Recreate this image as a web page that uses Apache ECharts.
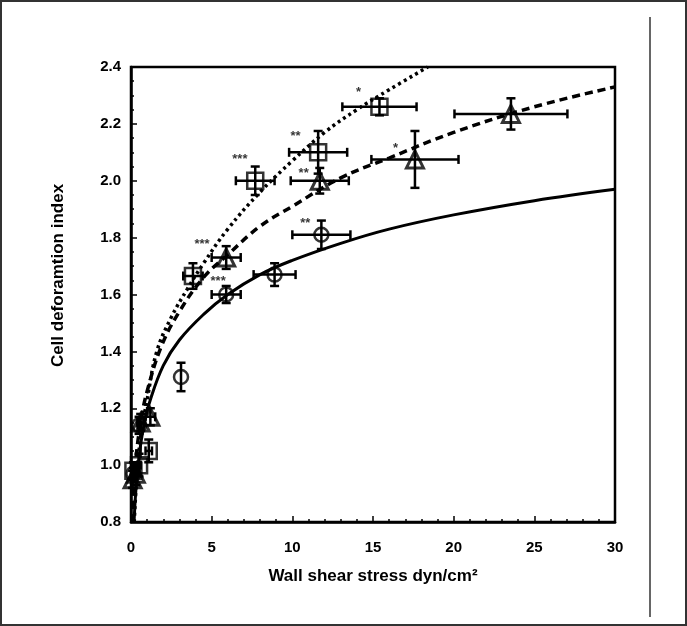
<!DOCTYPE html>
<html>
<head>
<meta charset="utf-8">
<script src="https://cdn.jsdelivr.net/npm/echarts@6/dist/echarts.min.js"></script>
<style>
  html, body { margin: 0; padding: 0; background: #fff; }
  #chart { width: 687px; height: 626px; }
</style>
</head>
<body>
<div id="chart"></div>
<script>
// circles (solid fit)
const circleX = [0.15, 0.5, 3.1, 5.9, 8.9, 11.8]
const circleY = [0.97, 1.14, 1.31, 1.60, 1.67, 1.81]
const circleXErr = [0.05, 0.1, 0, 0.9, 1.3, 1.8]
const circleYErr = [0.02, 0.03, 0.05, 0.03, 0.04, 0.05]

// squares (dotted fit)
const squareX = [0.15, 0.5, 1.1, 3.84, 7.7, 11.6, 15.4]
const squareY = [0.98, 1.0, 1.05, 1.665, 2.0, 2.1, 2.26]
const squareXErr = [0.05, 0.1, 0.2, 0.6, 1.2, 1.8, 2.3]
const squareYErr = [0.03, 0.04, 0.04, 0.045, 0.05, 0.075, 0.03]

// triangles (dashed fit)
const triX = [0.1, 0.3, 0.6, 1.2, 5.9, 11.7, 17.6, 23.55]
const triY = [0.95, 0.97, 1.15, 1.17, 1.73, 2.0, 2.075, 2.235]
const triXErr = [0.05, 0.1, 0.2, 0.3, 0.9, 1.8, 2.7, 3.5]
const triYErr = [0.03, 0.04, 0.03, 0.03, 0.04, 0.045, 0.1, 0.055]

// fitted curves
const solidX = [0.19, 0.3, 0.5, 0.8, 1.2, 2, 3, 4.5, 6, 8, 10, 13, 16, 20, 25, 30]
const solidY = [0.8, 0.91, 1.03, 1.14, 1.23, 1.35, 1.44, 1.53, 1.6, 1.67, 1.72, 1.78, 1.83, 1.88, 1.93, 1.97]
const dottedX = [0.2, 0.35, 0.6, 1.0, 1.6, 2.5, 3.5, 4.5, 6, 8, 10, 12, 14, 16, 18.4]
const dottedY = [0.8, 0.95, 1.1, 1.23, 1.4, 1.52, 1.62, 1.71, 1.83, 1.96, 2.07, 2.17, 2.25, 2.32, 2.4]
const dashedX = [0.08, 0.15, 0.3, 0.6, 1.0, 1.9, 3, 4.5, 6, 8, 10, 13, 16, 20, 25, 30]
const dashedY = [0.8, 0.9, 1.02, 1.15, 1.26, 1.42, 1.54, 1.66, 1.74, 1.84, 1.91, 2.01, 2.08, 2.17, 2.26, 2.33]

// significance marks
const annX = [14.1, 10.2, 6.75, 10.7, 10.8, 4.4, 5.4, 16.4]
const annY = [2.31, 2.155, 2.075, 2.025, 1.85, 1.775, 1.645, 2.115]
const annText = ['*', '**', '***', '**', '**', '***', '***', '*']

const xTicks = { min: 0, max: 30, step: 5 }
const yTicks = { min: 0.8, max: 2.4, step: 0.2 }

const zip = (xs, ys) => xs.map((x, i) => [x, ys[i]])
const errData = (xs, ys, xe, ye) => xs.map((x, i) => [x, ys[i], xe[i], ye[i]])

// 误差棒：横竖两条线，各带端帽
function renderErr(params, api) {
  const x = api.value(0), y = api.value(1), xe = api.value(2), ye = api.value(3)
  const c = api.coord([x, y])
  const l = api.coord([x - xe, y]), r = api.coord([x + xe, y])
  const t = api.coord([x, y + ye]), b = api.coord([x, y - ye])
  const cap = 4.5
  const style = { stroke: '#000', lineWidth: 2.5 }
  const kids = []
  if (xe > 0) {
    kids.push({ type: 'line', shape: { x1: l[0], y1: c[1], x2: r[0], y2: c[1] }, style })
    kids.push({ type: 'line', shape: { x1: l[0], y1: c[1] - cap, x2: l[0], y2: c[1] + cap }, style })
    kids.push({ type: 'line', shape: { x1: r[0], y1: c[1] - cap, x2: r[0], y2: c[1] + cap }, style })
  }
  if (ye > 0) {
    kids.push({ type: 'line', shape: { x1: c[0], y1: t[1], x2: c[0], y2: b[1] }, style })
    kids.push({ type: 'line', shape: { x1: c[0] - cap, y1: t[1], x2: c[0] + cap, y2: t[1] }, style })
    kids.push({ type: 'line', shape: { x1: c[0] - cap, y1: b[1], x2: c[0] + cap, y2: b[1] }, style })
  }
  return { type: 'group', children: kids }
}

const font = 'Liberation Sans, Arial, Helvetica, sans-serif'
const markerStyle = { color: 'rgba(255,255,255,0)', borderColor: '#000', borderWidth: 2.5 }

const chart = echarts.init(document.getElementById('chart'), null, { renderer: 'canvas' })
chart.setOption({
  backgroundColor: '#fff',
  animation: false,
  grid: {
    left: 131, right: 72, top: 67, bottom: 104,
    show: true, borderColor: '#000', borderWidth: 2.5, backgroundColor: 'transparent'
  },
  xAxis: {
    type: 'value', min: xTicks.min, max: xTicks.max, interval: xTicks.step,
    name: 'Wall shear stress dyn/cm²', nameLocation: 'middle', nameGap: 46,
    nameTextStyle: { fontFamily: font, fontWeight: 'bold', fontSize: 17, color: '#000' },
    axisLine: { show: true, onZero: false, lineStyle: { color: '#000', width: 2.5 } },
    axisTick: { show: true, inside: true, length: 6, lineStyle: { color: '#000', width: 1.5 } },
    minorTick: { show: true, splitNumber: 5, length: 3, lineStyle: { color: '#000', width: 1.5 } },
    splitLine: { show: false },
    axisLabel: { fontFamily: font, fontWeight: 'bold', fontSize: 15, color: '#000', margin: 18 }
  },
  yAxis: {
    type: 'value', min: yTicks.min, max: yTicks.max, interval: yTicks.step,
    name: 'Cell deforamtion index', nameLocation: 'middle', nameGap: 64,
    nameTextStyle: { fontFamily: font, fontWeight: 'bold', fontSize: 17, color: '#000', padding: [0, 0, 0, 38] },
    axisLine: { show: true, onZero: false, lineStyle: { color: '#000', width: 2.5 } },
    axisTick: { show: true, inside: true, length: 6, lineStyle: { color: '#000', width: 1.5 } },
    minorTick: { show: true, splitNumber: 4, length: 3, lineStyle: { color: '#000', width: 1.5 } },
    splitLine: { show: false },
    axisLabel: {
      fontFamily: font, fontWeight: 'bold', fontSize: 15, color: '#000', margin: 10,
      formatter: v => v.toFixed(1)
    }
  },
  graphic: [
    { type: 'rect', shape: { x: 1, y: 1, width: 685, height: 624 }, style: { fill: 'none', stroke: '#333', lineWidth: 2 }, silent: true },
    { type: 'line', shape: { x1: 650, y1: 17, x2: 650, y2: 617 }, style: { stroke: '#666', lineWidth: 2 }, silent: true }
  ],
  series: [
    { type: 'line', data: zip(solidX, solidY), smooth: 0.4, showSymbol: false, clip: true,
      lineStyle: { color: '#000', width: 3, type: 'solid' } },
    { type: 'line', data: zip(dashedX, dashedY), smooth: 0.4, showSymbol: false, clip: true,
      lineStyle: { color: '#000', width: 3.5, type: [8, 5] } },
    { type: 'line', data: zip(dottedX, dottedY), smooth: 0.4, showSymbol: false, clip: true,
      lineStyle: { color: '#000', width: 3.5, type: [3, 3.5] } },
    { type: 'custom', renderItem: renderErr, data: errData(circleX, circleY, circleXErr, circleYErr), z: 3 },
    { type: 'custom', renderItem: renderErr, data: errData(squareX, squareY, squareXErr, squareYErr), z: 3 },
    { type: 'custom', renderItem: renderErr, data: errData(triX, triY, triXErr, triYErr), z: 3 },
    { type: 'scatter', data: zip(circleX, circleY), symbol: 'circle', symbolSize: 14, itemStyle: markerStyle, z: 4 },
    { type: 'scatter', data: zip(squareX, squareY), symbol: 'rect', symbolSize: 16, itemStyle: markerStyle, z: 4 },
    { type: 'scatter', data: zip(triX, triY), symbol: 'triangle', symbolSize: 17,
      itemStyle: { color: 'rgba(255,255,255,0)', borderColor: '#000', borderWidth: 3 }, z: 4 },
    { type: 'scatter', data: annX.map((x, i) => ({ value: [x, annY[i]], name: annText[i] })),
      symbolSize: 1, itemStyle: { color: 'transparent' }, z: 5,
      label: { show: true, position: 'inside', formatter: p => p.name,
        fontFamily: font, fontWeight: 'bold', fontSize: 13, color: '#000' } }
  ]
})
</script>
</body>
</html>
